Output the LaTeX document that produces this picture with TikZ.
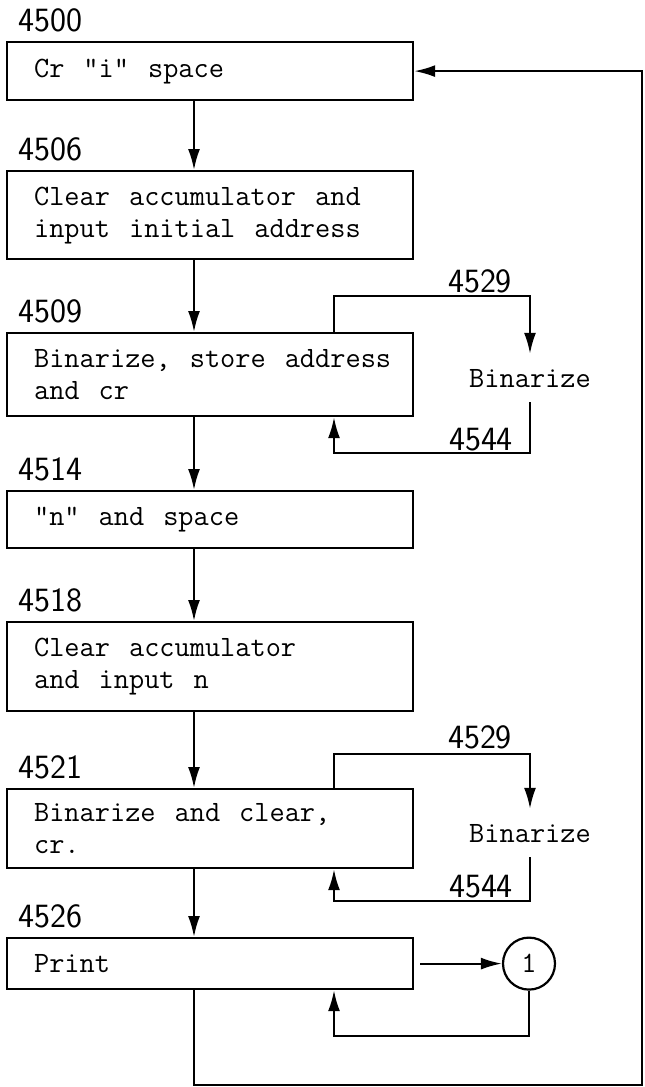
\documentclass[tikz,border=0pt]{standalone}
\usepackage{tikz}
\usetikzlibrary{arrows.meta}

\begin{document}
\begin{tikzpicture}[x=1pt,y=-1pt,
        box/.style={draw,line width=2.2pt,rectangle,anchor=north west,minimum width=406pt,
            text width=378pt,inner xsep=14pt,align=left,
            font=\fontsize{29.5}{32}\selectfont\ttfamily,
            execute at begin node={\spaceskip=19pt\relax\leftskip=13pt\relax}},
        num/.style={anchor=base west,inner sep=0pt,font=\fontsize{34}{34}\selectfont\sffamily},
        routine/.style={inner xsep=2pt,inner ysep=15pt,text height=18pt,text depth=0pt,
            font=\fontsize{29.5}{32}\selectfont\ttfamily},
        circ/.style={draw,circle,line width=2.2pt,minimum size=52pt,inner sep=0pt,
            font=\fontsize{29.5}{32}\selectfont\ttfamily},
        arr/.style={line width=2.2pt,-{Latex[length=21pt,width=12pt]}}]
            \useasboundingbox (0,0) rectangle (645,1087);
            \coordinate (trunk) at (194,0);
            \coordinate (loopl) at (334,0);
            \coordinate (rightx) at (642,0);

            \node[box,minimum height=58pt] (b1) at (6,41) {Cr "i" space};
            \node[box,minimum height=88pt] (b2) at (6,170) {Clear accumulator and\\input initial address};
            \node[box,minimum height=83pt] (b3) at (6,332) {Binarize, store address\\and cr};
            \node[box,minimum height=57pt] (b4) at (6,490) {"n" and space};
            \node[box,minimum height=89pt] (b5) at (6,621) {Clear accumulator\\and input n};
            \node[box,minimum height=79pt] (b6) at (6,788) {Binarize and clear,\\cr.};
            \node[box,minimum height=51pt] (b7) at (6,937) {Print};

            \foreach \b/\n in {b1/4500,b2/4506,b3/4509,b4/4514,b5/4518,b6/4521,b7/4526}{
                \node[num] (n\n) at ([xshift=12pt,yshift=10pt]\b.north west) {\n};
            }

            \foreach \a/\b in {b1/b2,b2/b3,b3/b4,b4/b5,b5/b6,b6/b7}{
                \draw[arr] (\a.south -| trunk) -- (\b.north -| trunk);
            }

            % binarize subroutines
            \node[routine,anchor=base] (bin1) at (530,387) {Binarize};
            \node[num,anchor=base] (top1) at (480,292) {4529};
            \node[num,anchor=base] (bot1) at (481,450) {4544};
            \draw[arr] (b3.north -| loopl) -- ++(0,-36) -| (bin1.north);
            \draw[arr] (bin1.south) -- ++(0,51) -| (b3.south -| loopl);

            \node[routine,anchor=base] (bin2) at (530,842) {Binarize};
            \node[num,anchor=base] (top2) at (480,748) {4529};
            \node[num,anchor=base] (bot2) at (481,897) {4544};
            \draw[arr] (b6.north -| loopl) -- ++(0,-34) -| (bin2.north);
            \draw[arr] (bin2.south) -- ++(0,44) -| (b6.south -| loopl);

            % print loop
            \node[circ] (one) at (b7.east -| 529,0) {1};
            \draw[arr] ([xshift=6pt]b7.east) -- (one.west);
            \draw[arr] (one.south) -- ++(0,45) -| (b7.south -| loopl);

            \draw[arr] (b7.south -| trunk) -- ++(0,95) -| (rightx |- b1.east) -- (b1.east);
        \end{tikzpicture}
\end{document}
